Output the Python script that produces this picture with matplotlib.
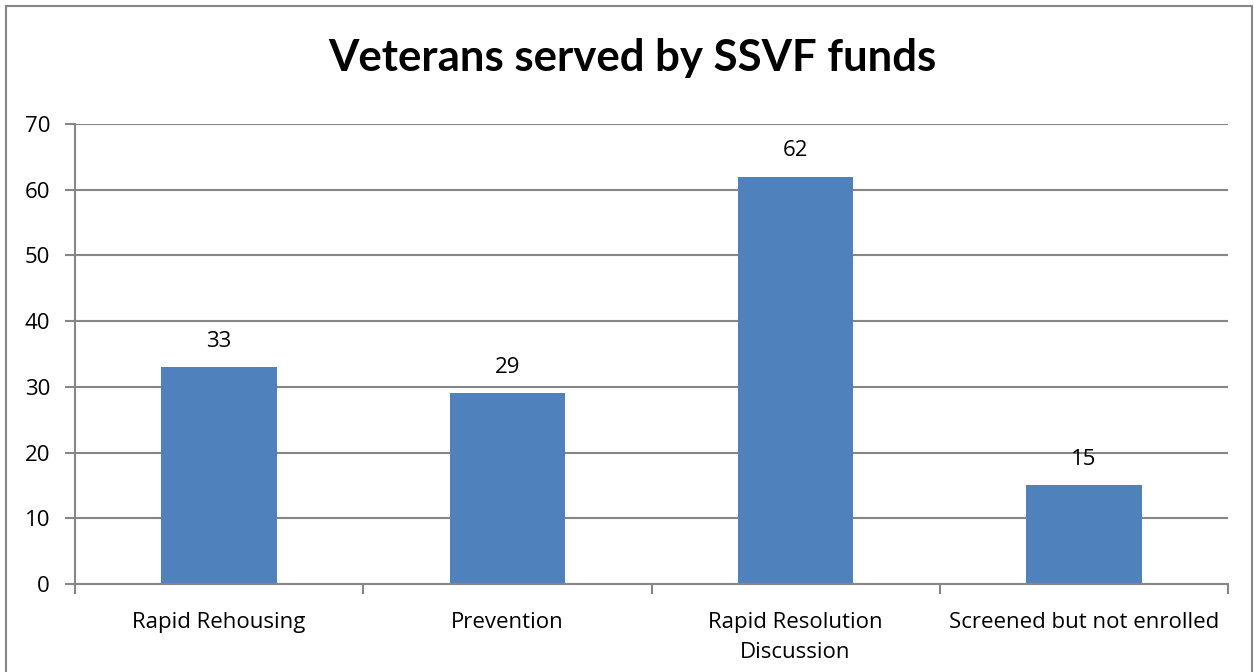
import matplotlib
matplotlib.use("Agg")
import matplotlib.pyplot as plt
from matplotlib.patches import Rectangle

categories = ["Rapid Rehousing", "Prevention", "Rapid Resolution\nDiscussion", "Screened but not enrolled"]
values = [33, 29, 62, 15]
yticks = [0, 10, 20, 30, 40, 50, 60, 70]
title = "Veterans served by SSVF funds"

plt.rcParams['font.family'] = ['Open Sans', 'DejaVu Sans']

fig = plt.figure(figsize=(12.54, 6.72), dpi=100)
ax = fig.add_axes([75/1254, 1-584/672, (1228-75)/1254, (584-124)/672])

grid_c = "#868686"
fs = 16
x = list(range(len(categories)))
ax.bar(x, values, width=0.4, color="#4F81BD", zorder=3)
for xi, v in zip(x, values):
    ax.annotate(str(v), (xi, v), xytext=(0, 11), textcoords="offset points",
                ha="center", va="bottom", fontsize=fs, color="black")

ax.set_xlim(-0.5, len(categories) - 0.5)
ax.set_ylim(0, 70)
ax.set_yticks(yticks)
ax.set_yticklabels([str(t) for t in yticks], fontsize=fs)
ax.yaxis.grid(True, color=grid_c, linewidth=1.5, zorder=0)
ax.set_axisbelow(True)
ax.tick_params(axis='y', length=7, width=1.5, color=grid_c, pad=11)

ax.set_xticks([i - 0.5 for i in range(len(categories) + 1)])
ax.set_xticklabels([])
ax.set_xticks(x, minor=True)
ax.set_xticklabels(categories, minor=True, fontsize=fs, va="top", linespacing=1.6)
ax.tick_params(axis='x', which='major', length=7, width=1.5, color=grid_c, direction='out')
ax.tick_params(axis='x', which='minor', length=0, pad=20)

for s in ["top", "right"]:
    ax.spines[s].set_visible(False)
for s in ["left", "bottom"]:
    ax.spines[s].set_color(grid_c)
    ax.spines[s].set_linewidth(1.5)
    ax.spines[s].set_zorder(4)

fig.text(632/1254, 1-58/672, title, ha="center", va="center", fontsize=31.5,
         fontweight="bold", family=['Lato', 'DejaVu Sans'])

fig.patches.append(Rectangle((6/1254, -0.01), (1252-6)/1254, 1-6/672 + 0.01, transform=fig.transFigure,
                             fill=False, edgecolor=grid_c, linewidth=1.5))

fig.savefig("out.png", dpi=100)
